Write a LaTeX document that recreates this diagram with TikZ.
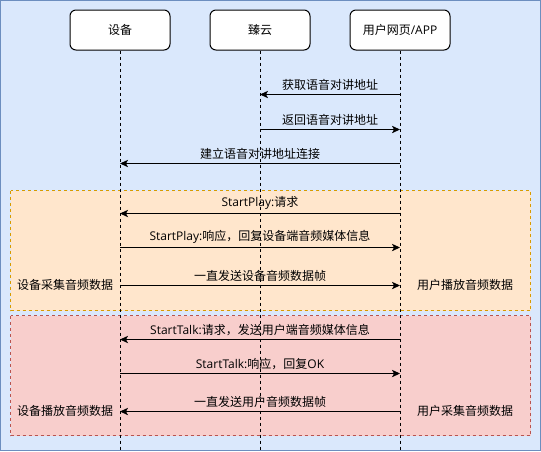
\documentclass[tikz,border=0pt]{standalone}
\usepackage{fontspec}
\setmainfont{Noto Sans CJK SC}
\newfontfamily\lat{Open Sans}
\usetikzlibrary{arrows.meta}
\definecolor{bgblue}{HTML}{DAE8FC}
\definecolor{bgblueline}{HTML}{6C8EBF}
\definecolor{orfill}{HTML}{FFE6CC}
\definecolor{orline}{HTML}{D79B00}
\definecolor{rdfill}{HTML}{F8CECC}
\definecolor{rdline}{HTML}{B85450}
\tikzset{
  actor/.style={draw=black, fill=white, rounded corners=4.5pt, minimum width=75pt, minimum height=30pt, line width=0.75pt, font=\fontsize{9pt}{11pt}\selectfont, inner sep=0pt},
  lifeline/.style={draw=black, line width=0.75pt, dash pattern=on 2.25pt off 2.25pt},
  msg/.style={draw=black, line width=0.75pt, -{Stealth[length=6pt,width=5.5pt,inset=1.5pt]}},
  lbl/.style={font=\fontsize{9pt}{11pt}\selectfont, inner sep=0pt},
  zone/.style={line width=0.75pt, dash pattern=on 2.25pt off 2.25pt}
}
\begin{document}
\begin{tikzpicture}[x=0.75pt,y=-0.75pt]
\useasboundingbox (0,0) rectangle (541,451);
% background
\filldraw[fill=bgblue, draw=bgblueline, line width=0.75pt] (0.5,0.5) rectangle (540.5,450.5);
% zones
\filldraw[zone, fill=orfill, draw=orline] (10.5,190.5) rectangle (530.5,310.5);
\filldraw[zone, fill=rdfill, draw=rdline] (10.5,315.5) rectangle (530.5,435.5);
% actors
\node[actor] (dev) at (120,30) {设备};
\node[actor] (cloud) at (260,30) {臻云};
\node[actor] (user) at (400,30) {用户网页{\lat/APP}};
% lifeline ends
\coordinate (devEnd) at (120,451);
\coordinate (cloudEnd) at (260,451);
\coordinate (userEnd) at (400,451);
\draw[lifeline] (dev.south) -- (devEnd);
\draw[lifeline] (cloud.south) -- (cloudEnd);
\draw[lifeline] (user.south) -- (userEnd);
% message anchor points
\coordinate (u1) at (400,94.5);  \coordinate (c1) at (260,94.5);
\coordinate (c2) at (260,129.5); \coordinate (u2) at (400,129.5);
\coordinate (u3) at (400,163.5); \coordinate (d3) at (120,163.5);
\coordinate (u4) at (400,213.5); \coordinate (d4) at (120,213.5);
\coordinate (d5) at (120,247.5); \coordinate (u5) at (400,247.5);
\coordinate (d6) at (120,285.5); \coordinate (u6) at (400,285.5);
\coordinate (u7) at (400,339.5); \coordinate (d7) at (120,339.5);
\coordinate (d8) at (120,373.5); \coordinate (u8) at (400,373.5);
\coordinate (u9) at (400,411.5); \coordinate (d9) at (120,411.5);
% messages
\draw[msg] (u1) -- node[lbl, above=2.5pt] {获取语音对讲地址} (c1);
\draw[msg] (c2) -- node[lbl, above=2.5pt] {返回语音对讲地址} (u2);
\draw[msg] (u3) -- node[lbl, above=2.5pt] {建立语音对讲地址连接} (d3);
\draw[msg] (u4) -- node[lbl, above=2.5pt] {{\lat StartPlay:}请求} (d4);
\draw[msg] (d5) -- node[lbl, above=2.5pt] {{\lat StartPlay:}响应，回复设备端音频媒体信息} (u5);
\draw[msg] (d6) -- node[lbl, above=2.5pt] {一直发送设备音频数据帧} (u6);
\draw[msg] (u7) -- node[lbl, above=2.5pt] {{\lat StartTalk:}请求，发送用户端音频媒体信息} (d7);
\draw[msg] (d8) -- node[lbl, above=2.5pt] {{\lat StartTalk:}响应，回复{\lat OK}} (u8);
\draw[msg] (u9) -- node[lbl, above=2.5pt] {一直发送用户音频数据帧} (d9);
% side notes
\node[lbl] (n1) at (65,285) {设备采集音频数据};
\node[lbl] (n2) at (465,285) {用户播放音频数据};
\node[lbl] (n3) at (65,410.5) {设备播放音频数据};
\node[lbl] (n4) at (465,410.5) {用户采集音频数据};
\end{tikzpicture}
\end{document}
